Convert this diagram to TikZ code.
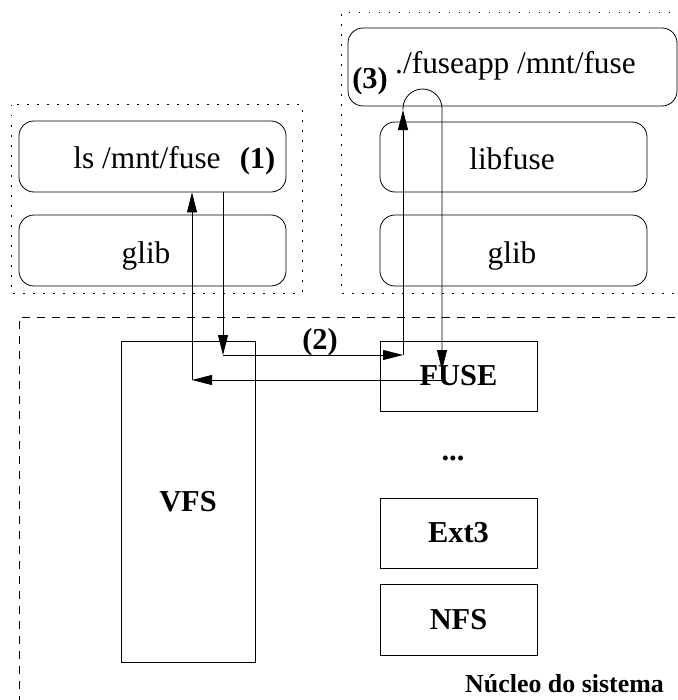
\documentclass[tikz,border=0pt]{standalone}
\usepackage{fontspec}
\setmainfont{Liberation Serif}
\usetikzlibrary{arrows.meta,calc}
\begin{document}
\begin{tikzpicture}[x=1bp,y=-1bp,
  line width=0.8bp,
  rbox/.style={draw, rounded corners=15bp, inner sep=0pt},
  sbox/.style={draw, inner sep=0pt, font=\fontsize{30.5}{36}\selectfont\bfseries},
  lbl/.style={inner sep=0pt, font=\fontsize{31.5}{36}\selectfont},
  blbl/.style={inner sep=0pt, font=\fontsize{30.5}{36}\selectfont\bfseries},
  dotbox/.style={dash pattern=on 1.5bp off 8.5bp, line width=1bp},
  dashbox/.style={dash pattern=on 8bp off 7bp},
  arr/.style={-{Triangle[length=20bp,width=10bp]}}
]
\useasboundingbox (0,0) rectangle (678,700);
% group frames
\draw[dotbox] (11,105) rectangle (302,293);
\draw[dotbox] (690,13) -- (341,13) -- (341,293) -- (690,293);
\draw[dashbox] (690,317) -- (19,317) -- (19,710);
% user-space boxes (left)
\node[rbox, minimum width=267bp, minimum height=71bp] (lsbox) at (152.5,156.5) {};
\node[rbox, minimum width=267bp, minimum height=71bp] (glibL) at (152.5,250.5) {};
\node[lbl, anchor=base] (lstext) at (147,168) {ls /mnt/fuse};
\node[blbl, anchor=base] (one) at (257.5,168) {(1)};
\node[lbl, anchor=base] (glibLtext) at (146,263) {glib};
% user-space boxes (right)
\node[rbox, minimum width=329bp, minimum height=78bp] (fuseapp) at (512.5,67) {};
\node[rbox, minimum width=267bp, minimum height=70bp] (libfuse) at (513.5,157) {};
\node[rbox, minimum width=267bp, minimum height=71bp] (glibR) at (513.5,250.5) {};
\node[lbl, anchor=base] (apptext) at (515.5,74) {./fuseapp /mnt/fuse};
\node[blbl, anchor=base] (three) at (370,89) {(3)};
\node[lbl, anchor=base] (libfusetext) at (512,169) {libfuse};
\node[lbl, anchor=base] (glibRtext) at (512,263) {glib};
% kernel boxes
\node[sbox, minimum width=134bp, minimum height=321bp] (vfs) at (188,501.5) {VFS};
\node[sbox, minimum width=157bp, minimum height=70bp] (fuse) at (458.5,376) {FUSE};
\node[sbox, minimum width=157bp, minimum height=70bp] (ext3) at (458.5,533) {Ext3};
\node[sbox, minimum width=157bp, minimum height=71bp] (nfs) at (458.5,619.5) {NFS};
\node[blbl] (dots) at (453,458) {...};
\node[blbl] (two) at (320,342) {(2)};
\node[inner sep=0pt, font=\fontsize{26}{30}\selectfont\bfseries] (nucleo) at (564.5,684) {Núcleo do sistema};
% connectors
\coordinate (a1) at (223,355);
\coordinate (a2) at (403,355);
\coordinate (a3) at (403,110);
\coordinate (a4) at (442,370);
\coordinate (a5) at (442,380);
\coordinate (a6) at (192,380);
\draw[arr] (lsbox.south -| a1) -- (a1);
\draw[arr] (a1) -- (a2);
\draw[arr] (a2) -- (a3);
\draw[arr] (a3) -- (403,108.5) arc[start angle=180, end angle=360, radius=19.5] -- (a4);
\draw[arr] (a5) -- (a6);
\draw[arr] (a6) -- (lsbox.south -| a6);
\end{tikzpicture}
\end{document}
